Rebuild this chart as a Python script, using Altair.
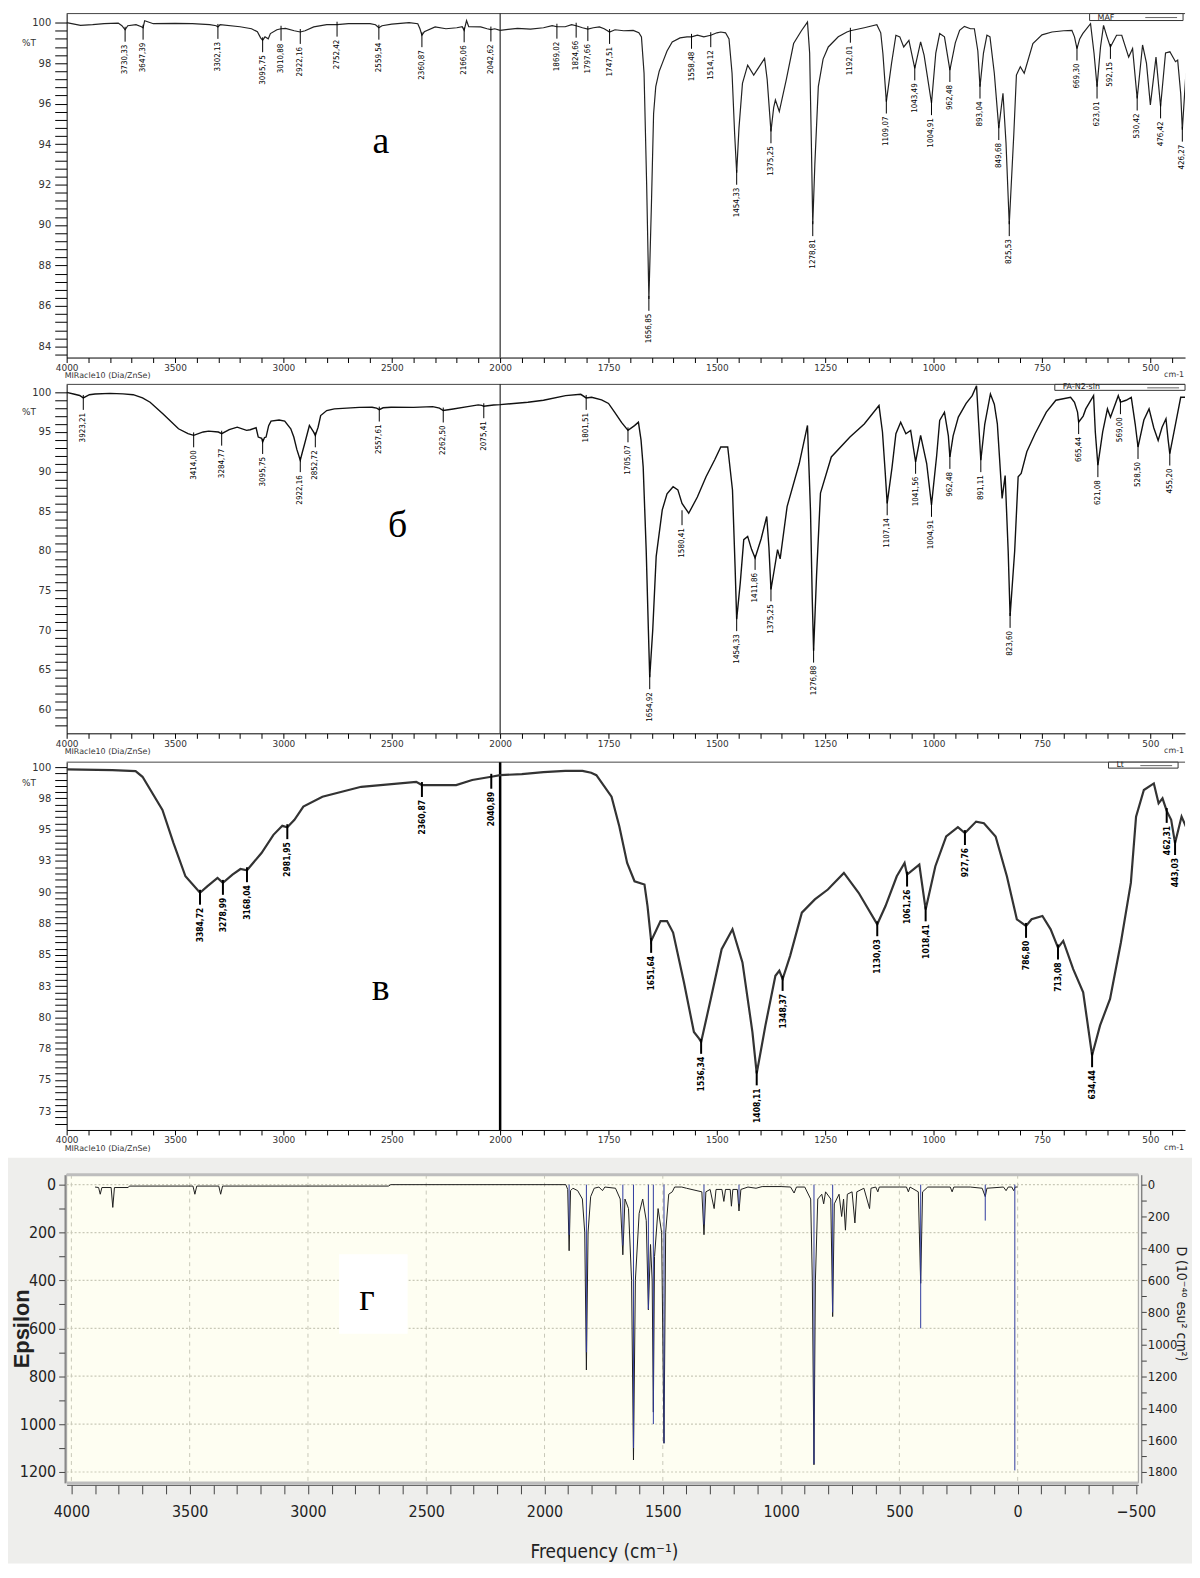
import altair as alt
import pandas as pd

# ---------------------------------------------------------------- shared
UEXPR = "datum.nu >= 2000 ? (4000 - datum.nu) / 100 : 20 + (2000 - datum.nu) / 50"
LBL_EXPR = "replace(format(datum.nu, '.2f'), '.', ',')"
NARROW = "Liberation Sans Narrow, Arial Narrow, DejaVu Sans Condensed, Roboto Condensed, Roboto, sans-serif"
AXF = "DejaVu Sans, Verdana, sans-serif"
SERIF = "Liberation Serif, DejaVu Serif, Times New Roman, serif"

X_TICKS = list(range(0, 52))
X_LABELS = ("datum.value <= 20 ? (datum.value % 5 == 0 ? format(4000 - 100 * datum.value, 'd') : '') : "
            "((datum.value - 20) % 5 == 0 ? format(2000 - 50 * (datum.value - 20), 'd') : '')")

# ---------------------------------------------------------------- panel а (MAF)
A_NU = [4000, 3936, 3880, 3827, 3762, 3745, 3730.33, 3718, 3680, 3655, 3647.39, 3640, 3600, 3500, 3420,
        3340, 3310, 3302.13, 3292, 3200, 3147, 3120, 3105, 3095.75, 3085, 3070, 3060, 3030, 3010.88, 2990,
        2950, 2922.16, 2900, 2860, 2800, 2752.42, 2700, 2600, 2575, 2559.54, 2545, 2500, 2420, 2380, 2370,
        2360.87, 2350, 2300, 2250, 2200, 2175, 2166.06, 2155, 2145, 2090, 2060, 2042.62, 2025, 2000,
        1960, 1930, 1900, 1880, 1869.02, 1850, 1835, 1824.66, 1810, 1797.66, 1785, 1771, 1760, 1747.51, 1735,
        1715, 1693, 1680, 1674, 1668, 1662, 1656.85, 1651, 1646, 1641, 1633, 1626, 1615, 1603, 1585, 1569,
        1558.48, 1545, 1530, 1514.12, 1500, 1491, 1480, 1472, 1465, 1459, 1454.33, 1449, 1441, 1429, 1415,
        1400, 1390, 1384, 1375.25, 1369, 1365, 1356, 1348, 1340, 1323, 1305, 1291, 1286, 1282, 1278.81,
        1274, 1266, 1255, 1243, 1220, 1200, 1192.01, 1160, 1131, 1122, 1117, 1109.07, 1097, 1087, 1078,
        1069, 1057, 1043.49, 1030, 1022, 1004.91, 995, 986, 975, 962.48, 950, 940, 929, 915, 906, 898,
        893.04, 885, 877, 870, 860, 849.68, 840, 833, 825.53, 815, 809, 800, 791, 771, 750, 727, 700, 681,
        675, 669.30, 663, 656, 638, 630, 623.01, 615, 608, 600, 592.15, 578, 566, 550, 541, 530.42, 518,
        509, 500, 487, 476.42, 465, 455, 442, 437, 430, 426.27, 418]
A_T = [100.0, 99.87, 99.9, 99.95, 99.98, 99.85, 99.65, 99.85, 99.9, 99.8, 99.75, 100.1, 99.95, 99.97, 99.95,
       99.9, 99.85, 99.79, 99.9, 99.8, 99.7, 99.55, 99.25, 99.13, 99.3, 99.2, 99.46, 99.65, 99.7, 99.72,
       99.6, 99.54, 99.6, 99.79, 99.9, 99.9, 99.95, 99.95, 99.9, 99.75, 99.85, 99.93, 100.0, 99.95, 99.7,
       99.38, 99.55, 99.79, 99.7, 99.75, 99.8, 99.62, 100.1, 99.8, 99.79, 99.7, 99.66, 99.7, 99.62,
       99.72, 99.68, 99.75, 99.85, 99.8, 99.8, 99.9, 99.85, 99.75, 99.68, 99.75, 99.79, 99.7, 99.54, 99.65,
       99.6, 99.62, 99.5, 99.3, 97.5, 92.0, 86.35, 91.0, 95.5, 96.84, 97.6, 97.99, 98.6, 99.05, 99.25, 99.3,
       99.3, 99.38, 99.3, 99.38, 99.5, 99.54, 99.5, 99.2, 97.5, 94.5, 92.58, 94.8, 97.0, 97.9, 97.41,
       97.9, 98.23, 97.2, 94.63, 95.8, 96.18, 95.61, 96.4, 97.17, 98.97, 99.6, 100.03, 98.5, 94.0, 90.04,
       93.0, 96.84, 98.2, 98.8, 99.3, 99.54, 99.6, 99.75, 99.9, 99.5, 98.48, 96.1, 98.0, 99.38, 99.3,
       98.8, 99.13, 97.74, 99.05, 98.4, 96.02, 98.5, 99.46, 99.3, 97.66, 99.0, 99.62, 99.82, 99.7, 99.7, 98.6,
       96.84, 98.5, 99.38, 99.3, 97.5, 94.79, 96.51, 94.05, 90.04, 94.5, 97.41, 97.82, 97.5, 98.97, 99.4, 99.54, 99.6, 99.62,
       99.3, 98.72, 99.2, 99.46, 99.95, 98.5, 96.84, 98.8, 99.87, 99.3, 98.8, 99.38, 99.38, 98.3, 98.72, 96.25, 98.9,
       98.0, 95.94, 98.3, 95.86, 98.5, 98.56, 98.07, 98.15, 96.5, 94.71, 97.5]
A_PK_NU = [3730.33, 3647.39, 3302.13, 3095.75, 3010.88, 2922.16, 2752.42, 2559.54, 2360.87, 2166.06, 2042.62,
           1869.02, 1824.66, 1797.66, 1747.51, 1656.85, 1558.48, 1514.12, 1454.33, 1375.25, 1278.81, 1192.01,
           1109.07, 1043.49, 1004.91, 962.48, 893.04, 849.68, 825.53, 669.30, 623.01, 592.15, 530.42, 476.42, 426.27]
A_PK_T = [99.65, 99.75, 99.79, 99.13, 99.7, 99.54, 99.9, 99.75, 99.38, 99.62, 99.66,
          99.8, 99.85, 99.68, 99.54, 86.35, 99.3, 99.38, 92.58, 94.63, 90.04, 99.6,
          96.1, 97.74, 96.02, 97.66, 96.84, 94.79, 90.04, 98.72, 96.84, 98.8, 96.25, 95.86, 94.71]

# ---------------------------------------------------------------- panel б (FA-N2-sin)
B_NU = [4000, 3968, 3940, 3923.21, 3895, 3869, 3800, 3740, 3693, 3650, 3615, 3555, 3484, 3440, 3414.00,
        3370, 3345, 3300, 3284.77, 3250, 3213, 3170, 3153, 3126, 3116, 3100, 3095.75, 3087, 3080, 3068,
        3057, 3020, 2994, 2966, 2952, 2938, 2922.16, 2912, 2902, 2880, 2861, 2852.72, 2840, 2828, 2800,
        2765, 2650, 2591, 2570, 2557.61, 2540, 2503, 2400, 2311, 2280, 2262.50, 2224, 2150, 2101, 2085,
        2075.41, 2030, 2000,
        1936, 1900, 1849, 1814, 1801.51, 1789, 1766, 1750, 1736, 1720, 1705.07, 1690, 1681, 1675, 1670,
        1663, 1658, 1654.92, 1648, 1640, 1626, 1615, 1601, 1590, 1580.41, 1565, 1545, 1525, 1505, 1491,
        1475, 1464, 1458, 1454.33, 1446, 1438, 1429, 1420, 1411.86, 1398, 1385, 1380, 1375.25, 1368,
        1360, 1354, 1338, 1310, 1291, 1284, 1280, 1276.88, 1270, 1261, 1236, 1193, 1160, 1126, 1118,
        1112, 1107.14, 1096, 1087, 1076, 1064, 1053, 1041.56, 1030, 1016, 1004.91, 993, 986, 975, 966,
        962.48, 955, 943, 925, 911, 901, 896, 891.11, 882, 869, 860, 853, 842, 835, 828, 823.60, 813,
        805, 798, 785, 766, 740, 718, 684, 675, 668, 665.44, 655, 649, 631, 627, 621.08, 610, 599, 592,
        574, 569.00, 556, 544, 535, 528.50, 515, 503, 492, 482, 473, 464, 459, 455.20, 442, 430, 420]
B_T = [100.0, 99.79, 99.6, 99.29, 99.7, 99.79, 99.87, 99.8, 99.7, 99.3, 98.75, 97.28, 95.4, 94.8, 94.57,
       95.0, 95.1, 94.99, 94.78, 95.3, 95.61, 95.2, 95.28, 95.53, 94.36, 94.2, 93.73, 94.3, 94.36, 95.8,
       96.37, 96.5, 96.37, 95.4, 94.36, 92.8, 91.44, 92.5, 93.52, 95.82, 95.0, 94.57, 95.6, 97.07, 97.7,
       97.91, 98.1, 98.12, 98.0, 97.82, 98.05, 98.12, 98.1, 98.2, 98.0, 97.7, 97.87, 98.2, 98.41, 98.35,
       98.24, 98.4, 98.45,
       98.75, 99.0, 99.58, 99.75, 99.29, 99.37, 99.04, 98.6, 97.49, 96.2, 95.2, 95.8, 96.24, 94.0, 90.6,
       80.0, 70.0, 64.07, 70.0, 79.32, 85.17, 87.2, 88.1, 87.7, 86.0, 84.75, 86.8, 89.35, 91.5, 93.1,
       93.1, 87.68, 78.0, 71.39, 76.0, 81.42, 81.83, 80.2, 79.11, 81.5, 84.34, 80.5, 75.15, 77.5,
       80.16, 78.99, 85.59, 91.02, 95.82, 85.0, 74.0, 67.42, 77.0, 87.3, 91.85, 94.36, 96.0, 98.33, 95.0,
       90.18, 86.0, 90.5, 94.78, 96.24, 94.78, 95.2, 91.23, 94.57, 91.02, 85.8, 92.0, 96.45, 97.49, 94.5,
       91.85, 94.5, 96.87, 98.6, 99.58, 100.83, 96.0, 91.44, 96.0, 99.79, 98.5, 96.03, 86.63, 89.5, 80.0, 71.8, 80.0,
       89.35, 89.77, 92.5, 94.78, 97.5, 99.0, 99.37, 98.75, 97.5, 96.24, 97.0, 97.91, 99.58, 95.0, 90.81, 95.0, 97.91, 96.87,
       99.58, 98.75, 99.0, 99.37, 96.0, 93.1, 96.5, 97.91, 95.5, 93.94, 95.6, 96.66, 94.0, 92.27, 96.0, 99.37, 99.37]
B_PK_NU = [3923.21, 3414.00, 3284.77, 3095.75, 2922.16, 2852.72, 2557.61, 2262.50, 2075.41, 1801.51,
           1705.07, 1654.92, 1580.41, 1454.33, 1411.86, 1375.25, 1276.88, 1107.14, 1041.56, 1004.91,
           962.48, 891.11, 823.60, 665.44, 621.08, 569.00, 528.50, 455.20]
B_PK_T = [99.29, 94.57, 94.78, 93.73, 91.44, 94.57, 97.82, 97.7, 98.24, 99.29,
          95.2, 64.07, 84.75, 71.39, 79.11, 75.15, 67.42, 86.0, 91.23, 85.8,
          91.85, 91.44, 71.8, 96.24, 90.81, 98.75, 93.1, 92.27]

# ---------------------------------------------------------------- panel в (Lt)
C_NU = [4000, 3789, 3682, 3650, 3558, 3507, 3452, 3384.72, 3350, 3304, 3278.99, 3235, 3198, 3168.04,
        3101, 3046, 3005, 2981.95, 2949, 2908, 2820, 2641, 2387, 2360.87, 2203, 2129, 2040.89, 2000,
        1950, 1900, 1850, 1810, 1790, 1778, 1743, 1725, 1707, 1690, 1667, 1660, 1651.64, 1630, 1615,
        1601, 1576, 1553, 1541, 1536.34, 1514, 1489, 1464, 1441, 1418, 1408.11, 1388, 1365, 1356,
        1348.37, 1331, 1304, 1274, 1244, 1207, 1173, 1130.03, 1111, 1085, 1067, 1061.26, 1033, 1018.41,
        996, 971, 944, 927.76, 902, 884, 857, 831, 808, 786.80, 774, 749, 730, 713.08, 701, 678, 655,
        634.44, 616, 593, 568, 545, 533, 515, 492, 481, 472, 462.31, 452, 443.03, 428, 418]
C_T = [99.82, 99.76, 99.68, 99.23, 96.58, 93.93, 91.28, 89.96, 90.49, 91.15, 90.75, 91.41, 91.86, 91.76,
       93.14, 94.59, 95.31, 95.2, 95.79, 96.85, 97.64, 98.43, 98.83, 98.57, 98.57, 98.97, 99.23, 99.36,
       99.45, 99.6, 99.7, 99.7, 99.55, 99.36, 97.64, 95.26, 92.34, 90.88, 90.62, 88.9, 86.11, 87.7, 87.7,
       86.78, 82.8, 78.83, 78.3, 78.04, 81.48, 85.45, 87.04, 84.39, 78.83, 75.52, 79.36, 83.33, 83.73,
       83.07, 84.92, 88.37, 89.43, 90.22, 91.55, 89.96, 87.44, 88.9, 91.28, 92.34, 91.41, 92.21, 88.63,
       92.08, 94.46, 95.2, 94.73, 95.65, 95.52, 94.46, 91.28, 87.84, 87.31, 87.84, 88.1, 87.04, 85.58, 86.11, 83.86, 82.01,
       76.97, 79.36, 81.48, 85.99, 90.75, 96.05, 98.17, 98.7, 97.11, 97.51, 96.5, 95.79, 93.93, 96.05, 95.26]
C_PK_NU = [3384.72, 3278.99, 3168.04, 2981.95, 2360.87, 2040.89, 1651.64, 1536.34, 1408.11, 1348.37,
           1130.03, 1061.26, 1018.41, 927.76, 786.80, 713.08, 634.44, 462.31, 443.03]
C_PK_T = [89.96, 90.75, 91.76, 95.2, 98.57, 99.23, 86.11, 78.04, 75.52, 83.07,
          87.44, 91.41, 88.63, 94.73, 87.31, 85.58, 76.97, 96.5, 93.93]

# ---------------------------------------------------------------- panel г (calculated)
G_NU = [3900, 3885, 3878, 3871, 3832, 3825, 3818, 3760, 3755, 3486, 3478, 3470, 3377, 3369, 3361,
        2660, 2650, 1910, 1902, 1896, 1890, 1880, 1860, 1840, 1830, 1823, 1816, 1805, 1790, 1770,
        1755, 1745, 1700, 1680, 1669, 1660, 1645, 1632, 1624, 1616, 1600, 1585, 1570, 1561, 1552,
        1545, 1540, 1535, 1520, 1505, 1495, 1488, 1475, 1460, 1450, 1420, 1400, 1335, 1326, 1318,
        1300, 1283, 1275, 1250, 1242, 1235, 1215, 1210, 1204, 1185, 1178, 1170, 1140, 1106, 1080,
        1000, 960, 945, 935, 900, 875, 868, 861, 855, 845, 828, 820, 812, 790, 782, 775, 755, 744,
        736, 728, 720, 700, 688, 680, 650, 626, 620, 600, 591, 585, 500, 470, 462, 455, 420, 410,
        402, 380, 285, 277, 270, 200, 150, 137, 130, 60, 49, 40, 25, 17, 10, 0]
G_EPS = [10, 12, 40, 12, 12, 95, 12, 12, 6, 6, 40, 6, 6, 40, 6,
         6, 0, 0, 20, 276, 25, 15, 25, 60, 200, 774, 200, 50, 15, 10,
         25, 10, 15, 60, 293, 60, 100, 400, 1150, 400, 120, 60, 150, 523, 250,
         400, 950, 300, 100, 200, 1080, 200, 40, 30, 10, 10, 15, 30, 209, 30,
         20, 100, 20, 20, 70, 20, 20, 90, 20, 20, 110, 20, 10, 15, 8,
         8, 10, 35, 10, 10, 60, 400, 1170, 400, 60, 40, 80, 30, 60, 551, 80, 40, 133,
         60, 190, 40, 30, 160, 30, 15, 100, 15, 10, 30, 10, 10, 10, 30, 10, 30, 412,
         30, 10, 10, 30, 10, 10, 15, 50, 15, 10, 25, 10, 10, 25, 10, 10]
G_ST_NU = [1896, 1823, 1669, 1624, 1561, 1540, 1495, 1326, 1178, 861, 782, 410, 137, 12]
G_ST_D = [315, 1050, 380, 1650, 780, 1500, 1620, 250, 120, 1750, 800, 900, 225, 1790]
G_GRID_NU = [4000, 3500, 3000, 2500, 2000, 1500, 1000, 500, 0]
G_GRID_E = [0, 200, 400, 600, 800, 1000, 1200]

# ---------------------------------------------------------------- layout constants
LEFT = 59          # distance from page margin to the plot's left edge
W_IR = 1125
U_MAX = 51.6


def ir_panel(nu, t, pk_nu, pk_t, ydom, H, yticks, ylab_expr, pct_t, letter, letter_xy,
             legend, legend_box, line_w, line_col, lbl_size, lbl_weight, conn_w, pad_top, pad_bottom,
             div_w):
    curve = pd.DataFrame({"nu": nu, "T": t})
    peaks = pd.DataFrame({"nu": pk_nu, "T": pk_t})
    one = pd.DataFrame({"k": [0]})
    xs = alt.Scale(domain=[0, U_MAX], nice=False, zero=False)
    ys = alt.Scale(domain=ydom, nice=False, zero=False)
    xax = alt.Axis(values=X_TICKS, labelExpr=X_LABELS, title=None, grid=False, tickSize=5,
                   tickColor="black", domainColor="black", labelFont=AXF, labelFontSize=9,
                   labelColor="#333", labelPadding=1, labelOverlap=False, labelFlush=False)
    yax = alt.Axis(values=yticks, labelExpr=ylab_expr, title=None, grid=False, tickSize=12,
                   tickColor="black", domainColor="black", labelFont=AXF, labelFontSize=10,
                   labelColor="#333", labelPadding=4, labelOverlap=False)
    X = alt.X("u:Q", scale=xs, axis=xax)
    Y = alt.Y("T:Q", scale=ys, axis=yax)

    anchor = alt.Chart(one).mark_rule(opacity=0).encode(
        x=alt.value(-LEFT), y=alt.value(-pad_top), y2=alt.value(H + pad_bottom))
    line = alt.Chart(curve).transform_calculate(u=UEXPR).mark_line(
        color=line_col, strokeWidth=line_w, clip=True).encode(x=X, y=Y)
    pk = alt.Chart(peaks).transform_calculate(u=UEXPR, lbl=LBL_EXPR)
    conn = pk.mark_rule(color="black", strokeWidth=conn_w, yOffset=-3, y2Offset=12).encode(
        x=X, y=Y, y2="T:Q")
    lbl = pk.mark_text(angle=270, align="right", baseline="middle", yOffset=15, font=NARROW,
                       fontSize=lbl_size, fontWeight=lbl_weight, color="black").encode(
        x=X, y=Y, text="lbl:N")
    divider = alt.Chart(pd.DataFrame({"nu": [2000]})).transform_calculate(u=UEXPR).mark_rule(
        color="black", strokeWidth=div_w).encode(x=X)
    top = alt.Chart(one).mark_rule(color="#444", strokeWidth=1).encode(
        x=alt.value(0), x2=alt.value(W_IR), y=alt.value(0))
    pct = alt.Chart(pd.DataFrame({"T": [pct_t]})).mark_text(
        font=AXF, fontSize=9, color="#333", align="center").encode(
        x=alt.value(-38), y=Y, text=alt.value("%T"))
    let = alt.Chart(one).mark_text(font=SERIF, fontSize=38, color="black").encode(
        x=alt.value(letter_xy[0]), y=alt.value(letter_xy[1]), text=alt.value(letter))
    miracle = alt.Chart(one).mark_text(font=AXF, fontSize=8, color="#333", align="left").encode(
        x=alt.value(-2), y=alt.value(H + 19), text=alt.value("MIRacle10 (Dia/ZnSe)"))
    cm = alt.Chart(one).mark_text(font=AXF, fontSize=8, color="#333", align="right").encode(
        x=alt.value(W_IR - 1), y=alt.value(H + 18), text=alt.value("cm-1"))
    bx0, bx1, by1 = legend_box
    lbox = alt.Chart(one).mark_rect(fill="white", stroke="#333", strokeWidth=1).encode(
        x=alt.value(bx0), x2=alt.value(bx1), y=alt.value(0), y2=alt.value(by1))
    ltxt = alt.Chart(one).mark_text(font=AXF, fontSize=8, align="left", baseline="bottom",
                                    color="#222").encode(
        x=alt.value(bx0 + 8), y=alt.value(by1 + 1), text=alt.value(legend))
    lline = alt.Chart(one).mark_rule(color="#666", strokeWidth=1).encode(
        x=alt.value(bx1 - 38), x2=alt.value(bx1 - 6), y=alt.value(by1 / 2 + 0.5))
    return alt.layer(anchor, top, divider, line, conn, lbl, pct, let, miracle, cm,
                     lbox, ltxt, lline).properties(width=W_IR, height=H)


# y-axis tick arrays (labels every 2 / 5 / 2.5 units)
A_YT = [round(83.6 + 0.4 * i, 1) for i in range(42)]
B_YT = list(range(58, 101))
C_YT = [71.5 + 0.5 * i for i in range(58)]

pa = ir_panel(A_NU, A_T, A_PK_NU, A_PK_T, [83.45, 100.45], 346, A_YT,
              "abs(datum.value - round(datum.value)) < 0.01 && round(datum.value) % 2 == 0 ? format(datum.value, '.0f') : ''",
              99.0, "а", (316, 129), "MAF", (1029, 1123, 7), 1.2, "#222", 8, "normal", 1, 1, 24, 1)
pb = ir_panel(B_NU, B_T, B_PK_NU, B_PK_T, [57.0, 101.0], 351, B_YT,
              "datum.value % 5 == 0 ? format(datum.value, 'd') : ''",
              97.5, "б", (333, 143), "FA-N2-sin", (994, 1125, 6), 1.4, "#111", 8, "normal", 1, 3, 24, 1)
pc = ir_panel(C_NU, C_T, C_PK_NU, C_PK_T, [71.0, 100.4], 370, C_YT,
              "abs(datum.value / 2.5 - round(datum.value / 2.5)) < 0.01 ? format(datum.value, '.0f') : ''",
              98.7, "в", (316, 228), "Lt", (1048, 1118, 6), 2.2, "#333", 8.5, "bold", 2, 5, 26, 2.5)

# ---------------------------------------------------------------- panel г
G_W, G_H = 1078, 310
one = pd.DataFrame({"k": [0]})
gxs = alt.Scale(domain=[4020, -510], nice=False, zero=False)
ges = alt.Scale(domain=[-41.5, 1245.6], reverse=True, nice=False, zero=False)
gds = alt.Scale(domain=[-62.25, 1868.4], reverse=True, nice=False, zero=False)
gx_axis = alt.Axis(values=list(range(4000, -501, -100)), labelExpr="datum.value % 500 == 0 ? format(datum.value, 'd') : ''",
                   title=None, grid=False, tickSize=9, tickColor="#444", domainColor="#555", offset=2,
                   labelFont=NARROW, labelFontSize=16, labelColor="#222", labelPadding=10,
                   labelOverlap=False, labelFlush=False, zindex=1)
gy_axis = alt.Axis(values=list(range(0, 1201, 100)), labelExpr="datum.value % 200 == 0 ? format(datum.value, 'd') : ''",
                   title=None, grid=False, tickSize=6, tickColor="#444", domainColor="#555", offset=2,
                   labelFont=NARROW, labelFontSize=16, labelColor="#222", labelPadding=3,
                   labelOverlap=False, zindex=1)
gd_axis = alt.Axis(orient="right", values=list(range(0, 1801, 100)),
                   labelExpr="datum.value % 200 == 0 ? format(datum.value, 'd') : ''",
                   title=None, grid=False, tickSize=5, tickColor="#444", domainColor="#555", offset=3,
                   labelFont=NARROW, labelFontSize=13, labelColor="#222", labelPadding=1,
                   labelOverlap=False, zindex=1)
GX = alt.X("nu:Q", scale=gxs, axis=gx_axis)

g_anchor = alt.Chart(one).mark_rule(opacity=0).encode(
    x=alt.value(-LEFT), y=alt.value(-19), y2=alt.value(G_H + 81))
g_bg = alt.Chart(one).mark_rect(fill="#eeeeec").encode(
    x=alt.value(-LEFT), x2=alt.value(1132), y=alt.value(-17), y2=alt.value(G_H + 81))
g_plot = alt.Chart(one).mark_rect(fill="#fefef2", stroke="#9a9a9a", strokeWidth=1).encode(
    x=alt.value(0), x2=alt.value(G_W), y=alt.value(0), y2=alt.value(G_H))
g_vgrid = alt.Chart(pd.DataFrame({"nu": G_GRID_NU})).mark_rule(
    color="#c9c9b8", strokeWidth=1, strokeDash=[4, 4]).encode(x=GX, y=alt.value(0), y2=alt.value(G_H))
g_hgrid = alt.Chart(pd.DataFrame({"e": G_GRID_E})).mark_rule(
    color="#c9c9b8", strokeWidth=1.2, strokeDash=[2, 2]).encode(
    y=alt.Y("e:Q", scale=ges, axis=None), x=alt.value(0), x2=alt.value(G_W))
g_line = alt.Chart(pd.DataFrame({"nu": G_NU, "e": G_EPS})).mark_line(
    color="#1e1e1e", strokeWidth=1, clip=True).encode(
    x=GX, y=alt.Y("e:Q", scale=ges, axis=gy_axis))
g_sticks = alt.Chart(pd.DataFrame({"nu": G_ST_NU, "D": G_ST_D})).transform_calculate(z="0").mark_rule(
    color="#2f3a9e", strokeWidth=1).encode(
    x=GX, y=alt.Y("D:Q", scale=gds, axis=gd_axis), y2="z:Q")
g_frame_t = alt.Chart(one).mark_rule(color="#bdbdbd", strokeWidth=3).encode(
    x=alt.value(0), x2=alt.value(G_W), y=alt.value(0))
g_frame_b = alt.Chart(one).mark_rule(color="#bdbdbd", strokeWidth=3).encode(
    x=alt.value(0), x2=alt.value(G_W), y=alt.value(G_H))
g_box = alt.Chart(one).mark_rect(fill="white").encode(
    x=alt.value(274), x2=alt.value(343), y=alt.value(80), y2=alt.value(160))
g_let = alt.Chart(one).mark_text(font=SERIF, fontSize=38, color="black").encode(
    x=alt.value(302), y=alt.value(125), text=alt.value("г"))
g_eps = alt.Chart(one).mark_text(font="Liberation Sans, DejaVu Sans, sans-serif", fontSize=22,
                                 fontWeight="bold", angle=270, color="#222").encode(
    x=alt.value(-45), y=alt.value(155), text=alt.value("Epsilon"))
g_dt = alt.Chart(one).mark_text(font=NARROW, fontSize=14, angle=90, color="#222").encode(
    x=alt.value(1121), y=alt.value(130), text=alt.value("D (10⁻⁴⁰ esu² cm²)"))
g_ft = alt.Chart(one).mark_text(font=NARROW, fontSize=19, color="#222").encode(
    x=alt.value(541), y=alt.value(G_H + 70), text=alt.value("Frequency (cm⁻¹)"))

pd_ = alt.layer(g_anchor, g_bg, g_plot, g_vgrid, g_hgrid, g_line, g_sticks, g_frame_t, g_frame_b,
                g_box, g_let, g_eps, g_dt, g_ft).resolve_scale(y="independent").properties(
    width=G_W, height=G_H)

chart = alt.vconcat(pa, pb, pc, pd_, spacing=0).properties(padding=0).configure_view(stroke=None)
chart.save("out.html", embed_options={"renderer": "svg", "actions": False})
